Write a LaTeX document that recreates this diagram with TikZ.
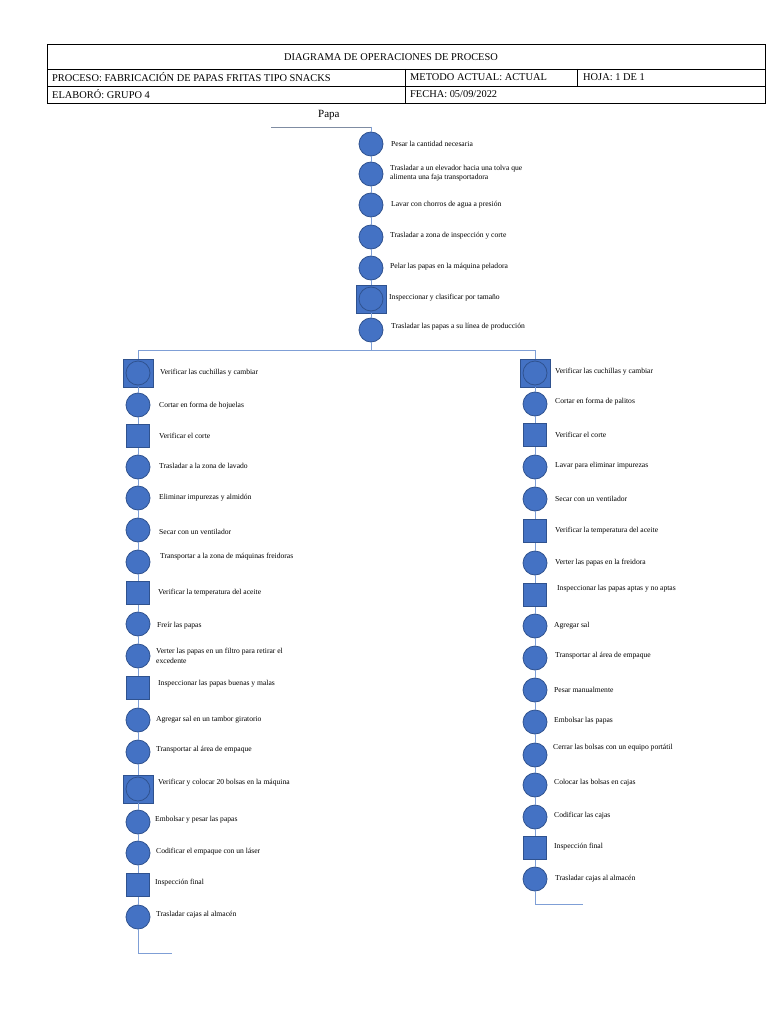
\documentclass[tikz,border=0pt]{standalone}
\usepackage{fontspec}
\setmainfont{Liberation Serif}
\definecolor{opfill}{HTML}{4472C4}
\definecolor{opline}{HTML}{2F528F}
\definecolor{lineblue}{HTML}{7F9FD6}
\begin{document}
\begin{tikzpicture}[x=1pt,y=-1pt,
    op/.style={circle,draw=opline,fill=opfill,line width=0.8pt,minimum size=24pt,inner sep=0pt},
    insp/.style={rectangle,draw=opline,fill=opfill,line width=0.8pt,minimum size=23pt,inner sep=0pt},
    comb/.style={insp,minimum width=30pt,minimum height=28pt,
      path picture={\draw[opline,line width=0.8pt] (path picture bounding box.center) circle (12pt);}},
    txt/.style={anchor=west,inner sep=0pt,align=left,font=\fontsize{7.6}{9.5}\selectfont},
    head/.style={anchor=west,inner sep=0pt,font=\fontsize{10.4}{11}\selectfont},
    flow/.style={color=lineblue,line width=0.9pt}]
  \useasboundingbox (0,0) rectangle (768,1024);
  % encabezado
  \draw[line width=0.8pt] (47,44) rectangle (765,103);
  \draw[line width=0.8pt] (47,69) -- (765,69) (47,86) -- (765,86)
    (405,69) -- (405,103) (577,69) -- (577,86);
  \draw
    (391,57) node[head,anchor=center] (h0){DIAGRAMA DE OPERACIONES DE PROCESO}
    (52,77.5) node[head] (h1){PROCESO: FABRICACIÓN DE PAPAS FRITAS TIPO SNACKS}
    (410,77.5) node[head] (h2){METODO ACTUAL: ACTUAL}
    (583,77.5) node[head] (h3){HOJA: 1 DE 1}
    (52,94.5) node[head] (h4){ELABORÓ: GRUPO 4}
    (410,94.5) node[head] (h5){FECHA: 05/09/2022};
  % tronco
  \draw
    (318,115) node[anchor=west,inner sep=0pt,font=\fontsize{11}{12}\selectfont] (papa){Papa}
    (371,144) node[op] (t1){}
    (371,174) node[op] (t2){}
    (371,205) node[op] (t3){}
    (371,237) node[op] (t4){}
    (371,268) node[op] (t5){}
    (371,299) node[comb] (t6){}
    (371,330) node[op] (t7){};
  \draw
    (391,144) node[txt] (t1x){Pesar la cantidad necesaria}
    (390,173) node[txt] (t2x){Trasladar a un elevador hacia una tolva que\\alimenta una faja transportadora}
    (391,205) node[txt] (t3x){Lavar con chorros de agua a presión}
    (390,236) node[txt] (t4x){Trasladar a zona de inspección y corte}
    (390,267) node[txt] (t5x){Pelar las papas en la máquina peladora}
    (389,298) node[txt] (t6x){Inspeccionar y clasificar por tamaño}
    (391,327) node[txt] (t7x){Trasladar las papas a su línea de producción};
  \coordinate (p0) at (271,127);
  \coordinate (p1) at (371,127);
  \coordinate (bm) at (371,350);
  \coordinate (bl) at (138,350);
  \coordinate (br) at (535,350);
  % rama izquierda
  \draw
    (138,373) node[comb] (l1){}
    (138,405) node[op] (l2){}
    (138,436) node[insp] (l3){}
    (138,467) node[op] (l4){}
    (138,498) node[op] (l5){}
    (138,530) node[op] (l6){}
    (138,562) node[op] (l7){}
    (138,593) node[insp] (l8){}
    (138,624) node[op] (l9){}
    (138,656) node[op] (l10){}
    (138,688) node[insp] (l11){}
    (138,720) node[op] (l12){}
    (138,752) node[op] (l13){}
    (138,789) node[comb] (l14){}
    (138,822) node[op] (l15){}
    (138,853) node[op] (l16){}
    (138,885) node[insp] (l17){}
    (138,917) node[op] (l18){};
  \draw
    (160,373) node[txt] (l1x){Verificar las cuchillas y cambiar}
    (159,406) node[txt] (l2x){Cortar en forma de hojuelas}
    (159,436) node[txt] (l3x){Verificar el corte}
    (159,466) node[txt] (l4x){Trasladar a la zona de lavado}
    (159,498) node[txt] (l5x){Eliminar impurezas y almidón}
    (159,532) node[txt] (l6x){Secar con un ventilador}
    (160,557) node[txt] (l7x){Transportar a la zona de máquinas freidoras}
    (158,593) node[txt] (l8x){Verificar la temperatura del aceite}
    (157,626) node[txt] (l9x){Freír las papas}
    (156,656) node[txt] (l10x){Verter las papas en un filtro para retirar el\\excedente}
    (158,684) node[txt] (l11x){Inspeccionar las papas buenas y malas}
    (156,720) node[txt] (l12x){Agregar sal en un tambor giratorio}
    (156,750) node[txt] (l13x){Transportar al área de empaque}
    (158,783) node[txt] (l14x){Verificar y colocar 20 bolsas en la máquina}
    (155,820) node[txt] (l15x){Embolsar y pesar las papas}
    (156,852) node[txt] (l16x){Codificar el empaque con un láser}
    (155,883) node[txt] (l17x){Inspección final}
    (156,915) node[txt] (l18x){Trasladar cajas al almacén};
  \coordinate (lend) at (138,953);
  \coordinate (lfoot) at (172,953);
  % rama derecha
  \draw
    (535,373) node[comb] (r1){}
    (535,404) node[op] (r2){}
    (535,435) node[insp] (r3){}
    (535,467) node[op] (r4){}
    (535,499) node[op] (r5){}
    (535,531) node[insp] (r6){}
    (535,563) node[op] (r7){}
    (535,595) node[insp] (r8){}
    (535,626) node[op] (r9){}
    (535,658) node[op] (r10){}
    (535,690) node[op] (r11){}
    (535,722) node[op] (r12){}
    (535,755) node[op] (r13){}
    (535,785) node[op] (r14){}
    (535,817) node[op] (r15){}
    (535,848) node[insp] (r16){}
    (535,879) node[op] (r17){};
  \draw
    (555,372) node[txt] (r1x){Verificar las cuchillas y cambiar}
    (555,402) node[txt] (r2x){Cortar en forma de palitos}
    (555,435) node[txt] (r3x){Verificar el corte}
    (555,466) node[txt] (r4x){Lavar para eliminar impurezas}
    (555,499) node[txt] (r5x){Secar con un ventilador}
    (555,531) node[txt] (r6x){Verificar la temperatura del aceite}
    (555,563) node[txt] (r7x){Verter las papas en la freidora}
    (557,589) node[txt] (r8x){Inspeccionar las papas aptas y no aptas}
    (554,626) node[txt] (r9x){Agregar sal}
    (555,656) node[txt] (r10x){Transportar al área de empaque}
    (554,690) node[txt] (r11x){Pesar manualmente}
    (554,721) node[txt] (r12x){Embolsar las papas}
    (553,748) node[txt] (r13x){Cerrar las bolsas con un equipo portátil}
    (554,783) node[txt] (r14x){Colocar las bolsas en cajas}
    (554,816) node[txt] (r15x){Codificar las cajas}
    (554,847) node[txt] (r16x){Inspección final}
    (555,879) node[txt] (r17x){Trasladar cajas al almacén};
  \coordinate (rend) at (535,904);
  \coordinate (rfoot) at (583,904);
  \begin{scope}[flow]
    \draw[color=gray!60!lineblue] (p0) to (p1);
    \draw (p1) to (t1);
    \draw (t1) to (t2);
    \draw (t2) to (t3);
    \draw (t3) to (t4);
    \draw (t4) to (t5);
    \draw (t5) to (t6);
    \draw (t6) to (t7);
    \draw (t7) to (bm);
    \draw (bl) to (br);
    \draw (bl) to (l1);
    \draw (br) to (r1);
    \draw (l1) to (l2);
    \draw (l2) to (l3);
    \draw (l3) to (l4);
    \draw (l4) to (l5);
    \draw (l5) to (l6);
    \draw (l6) to (l7);
    \draw (l7) to (l8);
    \draw (l8) to (l9);
    \draw (l9) to (l10);
    \draw (l10) to (l11);
    \draw (l11) to (l12);
    \draw (l12) to (l13);
    \draw (l13) to (l14);
    \draw (l14) to (l15);
    \draw (l15) to (l16);
    \draw (l16) to (l17);
    \draw (l17) to (l18);
    \draw (l18) to (lend) to (lfoot);
    \draw (r1) to (r2);
    \draw (r2) to (r3);
    \draw (r3) to (r4);
    \draw (r4) to (r5);
    \draw (r5) to (r6);
    \draw (r6) to (r7);
    \draw (r7) to (r8);
    \draw (r8) to (r9);
    \draw (r9) to (r10);
    \draw (r10) to (r11);
    \draw (r11) to (r12);
    \draw (r12) to (r13);
    \draw (r13) to (r14);
    \draw (r14) to (r15);
    \draw (r15) to (r16);
    \draw (r16) to (r17);
    \draw (r17) to (rend) to (rfoot);
  \end{scope}
\end{tikzpicture}
\end{document}
